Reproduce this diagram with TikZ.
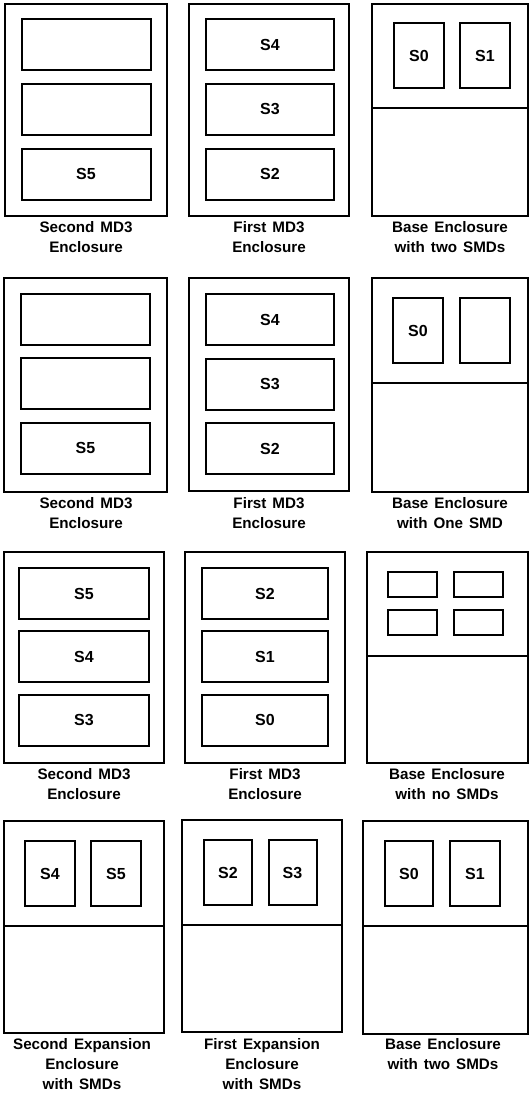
\documentclass[tikz,border=0pt]{standalone}
\usepackage{fontspec}
\setmainfont{Liberation Sans}
\usetikzlibrary{positioning}
\newcommand{\capfont}{\fontsize{15.2}{20}\selectfont\bfseries\spaceskip=6pt\relax}

\begin{document}
\begin{tikzpicture}[x=1pt, y=-1pt,
    encl/.style={draw, line width=2pt},
    bay/.style={draw, line width=2pt, inner sep=0pt, font=\fontsize{16}{18}\selectfont\bfseries},
    wide/.style={bay, minimum width=129pt, minimum height=51pt},
    smd/.style={bay, minimum width=50pt, minimum height=65pt},
    slot/.style={bay, minimum width=49pt, minimum height=25pt},
    captxt/.style={anchor=north, align=center, inner sep=0pt, font=\capfont}]
    \useasboundingbox (0,0) rectangle (529,1093);

    % first row
    \draw[encl] (5,4) rectangle (167,216);
    \node[wide] (a1) at (86,44.5) {};
    \node[wide] (a2) at (86,109) {};
    \node[wide] (a3) at (86,174) {S5};
    \node[captxt] (ca) at (86,221) {Second MD3\\Enclosure};

    \draw[encl] (189,4) rectangle (349,216);
    \node[wide, minimum width=128pt] (b1) at (270,44.5) {S4};
    \node[wide, minimum width=128pt] (b2) at (270,109) {S3};
    \node[wide, minimum width=128pt] (b3) at (270,174) {S2};
    \node[captxt] (cb) at (269,221) {First MD3\\Enclosure};

    \draw[encl] (372,4) rectangle (527.5,216);
    \draw[encl] (372,108) -- (527.5,108);
    \node[smd] (c1) at (419,55.5) {S0};
    \node[smd] (c2) at (485,55.5) {S1};
    \node[captxt] (cc) at (450,221) {Base Enclosure\\with two SMDs};

    % second row
    \draw[encl] (4,278) rectangle (167,492);
    \node[wide] (d1) at (85.5,319) {};
    \node[wide] (d2) at (85.5,383.5) {};
    \node[wide] (d3) at (85.5,448) {S5};
    \node[captxt] (cd) at (86,497) {Second MD3\\Enclosure};

    \draw[encl] (189,278) rectangle (349,491);
    \node[wide, minimum width=128pt] (e1) at (270,319.5) {S4};
    \node[wide, minimum width=128pt] (e2) at (270,384) {S3};
    \node[wide, minimum width=128pt] (e3) at (270,448.5) {S2};
    \node[captxt] (ce) at (269,497) {First MD3\\Enclosure};

    \draw[encl] (372,278) rectangle (527.5,492);
    \draw[encl] (372,383) -- (527.5,383);
    \node[smd] (f1) at (418,330.5) {S0};
    \node[smd] (f2) at (485,330.5) {};
    \node[captxt] (cf) at (450,497) {Base Enclosure\\with One SMD};

    % third row
    \draw[encl] (4,552) rectangle (164,763);
    \node[wide, minimum width=130pt] (g1) at (84,593.5) {S5};
    \node[wide, minimum width=130pt] (g2) at (84,656.5) {S4};
    \node[wide, minimum width=130pt] (g3) at (84,720) {S3};
    \node[captxt] (cg) at (84,768) {Second MD3\\Enclosure};

    \draw[encl] (185,552) rectangle (345,763);
    \node[wide, minimum width=126pt] (h1) at (265,593.5) {S2};
    \node[wide, minimum width=126pt] (h2) at (265,656.5) {S1};
    \node[wide, minimum width=126pt] (h3) at (265,720) {S0};
    \node[captxt] (ch) at (265,768) {First MD3\\Enclosure};

    \draw[encl] (367,552) rectangle (527.5,763);
    \draw[encl] (367,656) -- (527.5,656);
    \node[slot] (i1) at (412.5,584.5) {};
    \node[slot] (i2) at (478,584.5) {};
    \node[slot] (i3) at (412.5,622) {};
    \node[slot] (i4) at (478,622) {};
    \node[captxt] (ci) at (447,768) {Base Enclosure\\with no SMDs};

    % fourth row
    \draw[encl] (4,821) rectangle (164,1033);
    \draw[encl] (4,926) -- (164,926);
    \node[smd] (j1) at (50,873.5) {S4};
    \node[smd] (j2) at (116,873.5) {S5};
    \node[captxt] (cj) at (82,1038) {Second Expansion\\Enclosure\\with SMDs};

    \draw[encl] (182,820) rectangle (342,1032);
    \draw[encl] (182,925) -- (342,925);
    \node[smd, minimum width=48pt] (k1) at (228,872.5) {S2};
    \node[smd, minimum width=48pt] (k2) at (292.5,872.5) {S3};
    \node[captxt] (ck) at (262,1038) {First Expansion\\Enclosure\\with SMDs};

    \draw[encl] (363,821) rectangle (527.5,1034);
    \draw[encl] (363,926) -- (527.5,926);
    \node[smd, minimum width=48pt] (l1) at (409,873.5) {S0};
    \node[smd] (l2) at (475,873.5) {S1};
    \node[captxt] (cl) at (443,1038) {Base Enclosure\\with two SMDs};
\end{tikzpicture}
\end{document}
